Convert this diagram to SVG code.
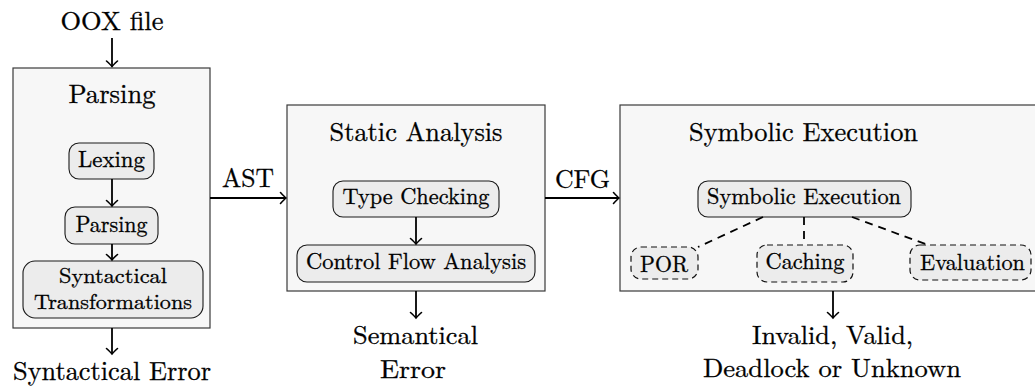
<svg xmlns="http://www.w3.org/2000/svg" width="1035" height="386" viewBox="0 0 1035 386">
<defs>
<style>
.outer{fill:#f7f7f7;stroke:#3a3a3a;stroke-width:1.2}
.inner{fill:#ececec;stroke:#1a1a1a;stroke-width:1.1}
.dinner{fill:#ececec;stroke:#111;stroke-width:1.2;stroke-dasharray:6 4}
text{fill:#000;stroke:#000;stroke-width:0.3;text-anchor:middle}
.big{font-size:26.3px}
.small{font-size:22.4px}
.big2{font-size:25.6px}
.small2{font-size:20.8px}
.arr{stroke:#000;stroke-width:1.8;fill:none;marker-end:url(#to)}
.dash{stroke:#000;stroke-width:1.8;fill:none;stroke-dasharray:8 6}
</style>
<marker id="to" markerUnits="userSpaceOnUse" markerWidth="14" markerHeight="14" viewBox="-8 -7 10 14" refX="0" refY="0" orient="auto">
<path d="M -5.5 -5.5 Q -1.5 -1.2 0 0 Q -1.5 1.2 -5.5 5.5" fill="none" stroke="#000" stroke-width="1.6" stroke-linecap="round"/>
</marker>
</defs>

<g font-family="Latin Modern Roman, Liberation Serif, serif">
<g id="parsing">
<rect class="outer" x="13" y="68" width="197" height="260"/>
<text class="big" x="112" y="103" textLength="87" lengthAdjust="spacingAndGlyphs">Parsing</text>
</g>
<g id="lexing">
<rect class="inner" x="69" y="143" width="85" height="36" rx="10"/>
<text class="small" x="111.5" y="167" textLength="67" lengthAdjust="spacingAndGlyphs">Lexing</text>
</g>
<g id="parsing-inner">
<rect class="inner" x="65" y="207" width="93" height="37" rx="10"/>
<text class="small" x="111.5" y="232" textLength="72" lengthAdjust="spacingAndGlyphs">Parsing</text>
</g>
<g id="syntactical-transformations">
<rect class="inner" x="23" y="261" width="180" height="57" rx="12"/>
<text class="small2" x="113" y="283" textLength="108" lengthAdjust="spacingAndGlyphs">Syntactical</text>
<text class="small2" x="113" y="309" textLength="158" lengthAdjust="spacingAndGlyphs">Transformations</text>
</g>

<g id="static-analysis">
<rect class="outer" x="287" y="105" width="258" height="186"/>
<text class="big" x="416" y="141" textLength="173" lengthAdjust="spacingAndGlyphs">Static Analysis</text>
</g>
<g id="type-checking">
<rect class="inner" x="333" y="181" width="166" height="36" rx="10"/>
<text class="small" x="416" y="204" textLength="147" lengthAdjust="spacingAndGlyphs">Type Checking</text>
</g>
<g id="control-flow-analysis">
<rect class="inner" x="297" y="245" width="238" height="37" rx="10"/>
<text class="small" x="416" y="269" textLength="220" lengthAdjust="spacingAndGlyphs">Control Flow Analysis</text>
</g>

<g id="symbolic-execution">
<rect class="outer" x="620" y="105" width="425" height="186"/>
<text class="big" x="803.5" y="141" textLength="229" lengthAdjust="spacingAndGlyphs">Symbolic Execution</text>
</g>
<g id="symbolic-execution-inner">
<rect class="inner" x="698" y="181" width="213" height="36" rx="10"/>
<text class="small" x="804" y="204" textLength="194" lengthAdjust="spacingAndGlyphs">Symbolic Execution</text>
</g>
<g id="por">
<rect class="dinner" x="631" y="247" width="67" height="32" rx="10"/>
<text class="small" x="664" y="272" textLength="48" lengthAdjust="spacingAndGlyphs">POR</text>
</g>
<g id="caching">
<rect class="dinner" x="757" y="245" width="96" height="37" rx="10"/>
<text class="small" x="805" y="269" textLength="79" lengthAdjust="spacingAndGlyphs">Caching</text>
</g>
<g id="evaluation">
<rect class="dinner" x="910" y="245" width="121" height="35" rx="10"/>
<text class="small" x="972.5" y="270" textLength="105" lengthAdjust="spacingAndGlyphs">Evaluation</text>
</g>

<g id="labels">
<text class="big" x="112" y="30" textLength="103" lengthAdjust="spacingAndGlyphs">OOX file</text>
<text class="big" x="112" y="380" textLength="198" lengthAdjust="spacingAndGlyphs">Syntactical Error</text>
<text class="big2" x="415.5" y="344" textLength="125" lengthAdjust="spacingAndGlyphs">Semantical</text>
<text class="big2" x="413" y="378" textLength="66" lengthAdjust="spacingAndGlyphs">Error</text>
<text class="big2" x="832.5" y="344" textLength="161" lengthAdjust="spacingAndGlyphs">Invalid, Valid,</text>
<text class="big2" x="832" y="377" textLength="258" lengthAdjust="spacingAndGlyphs">Deadlock or Unknown</text>
<text class="big" x="248" y="187" textLength="52" lengthAdjust="spacingAndGlyphs">AST</text>
<text class="big" x="582.5" y="188" textLength="55" lengthAdjust="spacingAndGlyphs">CFG</text>
</g>
</g>

<g id="connectors">
<path class="arr" d="M112 38 V66.5"/>
<path class="arr" d="M112 179 V206"/>
<path class="arr" d="M112 244 V260"/>
<path class="arr" d="M112 328 V354"/>
<path class="arr" d="M210 198 H286"/>
<path class="arr" d="M416 217 V244"/>
<path class="arr" d="M416 291 V318"/>
<path class="arr" d="M545 198 H619"/>
<path class="arr" d="M833 291 V318"/>
<path class="dash" d="M763 217 L698 247"/>
<path class="dash" d="M804 217 V245"/>
<path class="dash" d="M852 217 L928 245"/>
</g>
</svg>
